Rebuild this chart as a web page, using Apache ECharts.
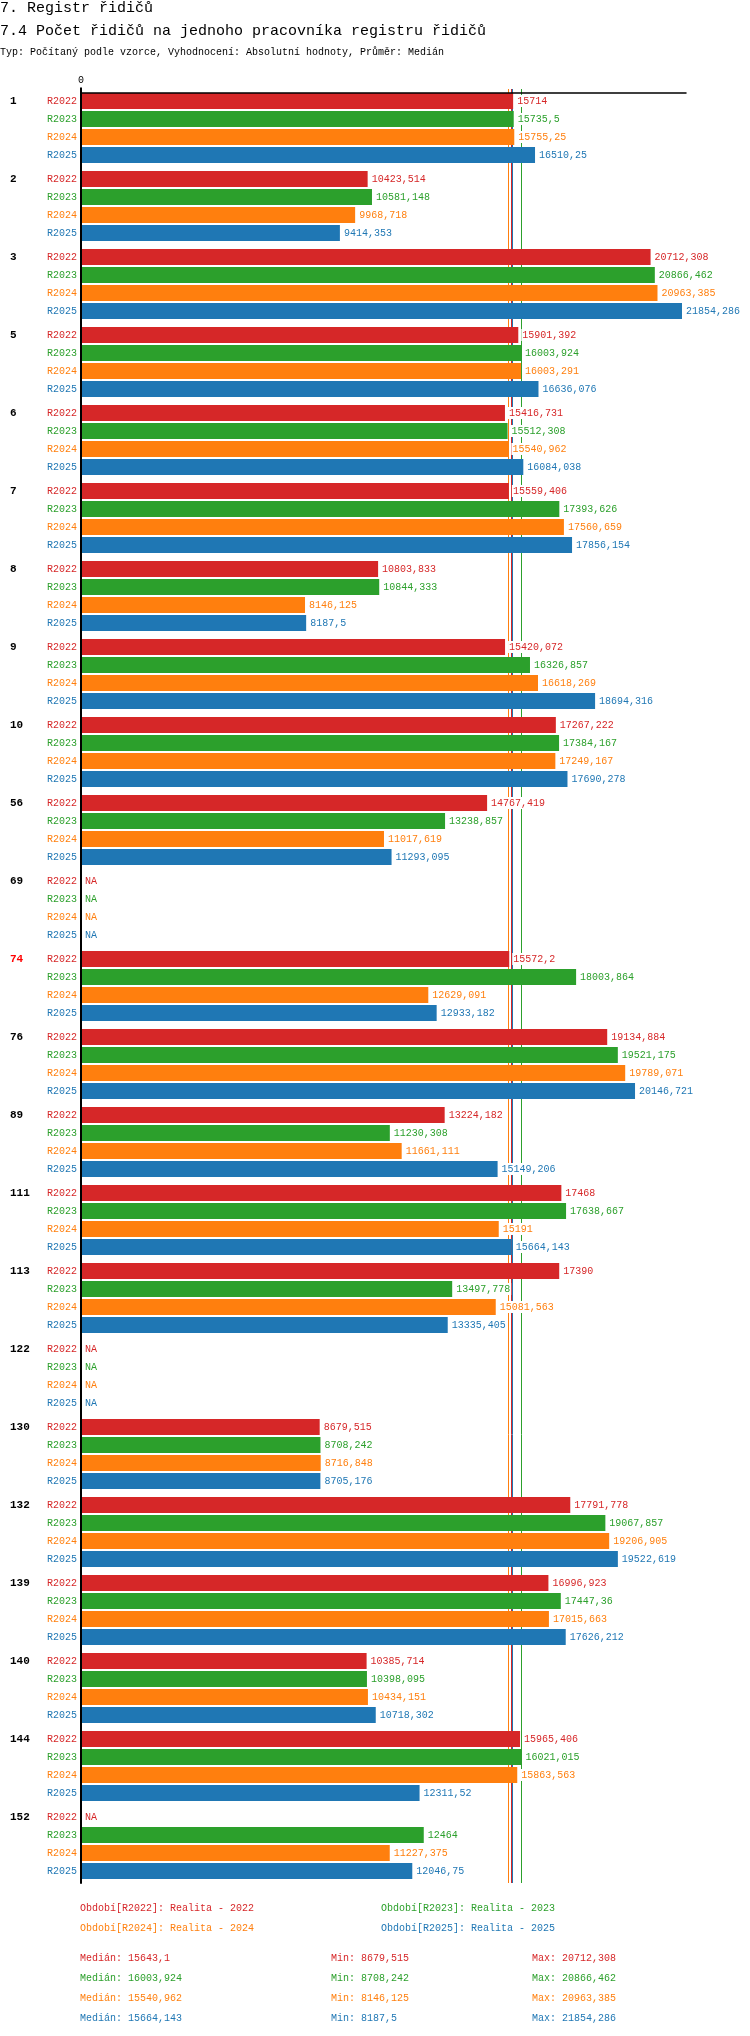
<!DOCTYPE html>
<html><head><meta charset="utf-8">
<script src="https://cdn.jsdelivr.net/npm/echarts@6/dist/echarts.min.js"></script>
<style>html,body{margin:0;padding:0;background:#fff}#c{width:750px;height:2036px}</style>
</head><body><div id="c"></div>
<script>
const groups = ['1','2','3','5','6','7','8','9','10','56','69','74','76','89','111','113','122','130','132','139','140','144','152'];
const periods = ['R2022','R2023','R2024','R2025'];
const legendYears = ['2022','2023','2024','2025'];
const r2022 = [15714,10423.514,20712.308,15901.392,15416.731,15559.406,10803.833,15420.072,17267.222,14767.419,null,15572.2,19134.884,13224.182,17468,17390,null,8679.515,17791.778,16996.923,10385.714,15965.406,null];
const r2023 = [15735.5,10581.148,20866.462,16003.924,15512.308,17393.626,10844.333,16326.857,17384.167,13238.857,null,18003.864,19521.175,11230.308,17638.667,13497.778,null,8708.242,19067.857,17447.36,10398.095,16021.015,12464];
const r2024 = [15755.25,9968.718,20963.385,16003.291,15540.962,17560.659,8146.125,16618.269,17249.167,11017.619,null,12629.091,19789.071,11661.111,15191,15081.563,null,8716.848,19206.905,17015.663,10434.151,15863.563,11227.375];
const r2025 = [16510.25,9414.353,21854.286,16636.076,16084.038,17856.154,8187.5,18694.316,17690.278,11293.095,null,12933.182,20146.721,15149.206,15664.143,13335.405,null,8705.176,19522.619,17626.212,10718.302,12311.52,12046.75];
const medians = [15643.1,16003.924,15540.962,15664.143];
const mins = [8679.515,8708.242,8146.125,8187.5];
const maxs = [20712.308,20866.462,20963.385,21854.286];
const highlightGroup = '74';

const vals = [r2022,r2023,r2024,r2025];
const colors = ['#d62728','#2ca02c','#ff7f0e','#1f77b4'];
const FONT = 'Liberation Mono';
const fmt = v => String(v).replace('.', ',');

const series = [];
series.push({
  type:'line', data:[], zlevel:0, z:1, silent:true,
  markLine:{symbol:'none', silent:true, animation:false, label:{show:false},
    data: medians.map((m,i)=>({xAxis:m, lineStyle:{color:colors[i], width:1, type:'solid'}}))}
});
for (let i=0;i<4;i++){
  series.push({
    type:'bar', name:periods[i]+'_lbl', stack:'s'+i, barWidth:16, barGap:'12.5%', silent:true, zlevel:1,
    data: groups.map(()=>0), itemStyle:{color:colors[i]},
    label:{show:true, position:'left', distance:4, formatter:periods[i], color:colors[i], fontFamily:FONT, fontSize:10}
  });
  series.push({
    type:'bar', name:periods[i], stack:'s'+i, barWidth:16, barGap:'12.5%', zlevel:1,
    data: vals[i].map(v => v==null ? {value:0, na:true} : v), itemStyle:{color:colors[i]},
    label:{show:true, position:'right', distance:3,
      formatter: p => (p.data && p.data.na) ? 'NA' : fmt(p.value),
      color:colors[i], fontFamily:FONT, fontSize:10, backgroundColor:'#fff', padding:[1,1]}
  });
}

const tf = (size) => size + 'px "Liberation Mono"';
const graphic = [
  {type:'text', x:0, y:8, style:{text:'7. Registr řidičů', font:tf(15), fill:'#000', verticalAlign:'middle'}},
  {type:'text', x:0, y:31, style:{text:'7.4 Počet řidičů na jednoho pracovníka registru řidičů', font:tf(15), fill:'#000', verticalAlign:'middle'}},
  {type:'text', x:0, y:52, style:{text:'Typ: Počítaný podle vzorce, Vyhodnocení: Absolutní hodnoty, Průměr: Medián', font:tf(10), fill:'#000', verticalAlign:'middle'}}
];
const legX = [80,381,80,381], legY = [1908,1908,1928,1928];
for (let i=0;i<4;i++){
  graphic.push({type:'text', x:legX[i], y:legY[i], style:{text:'Období['+periods[i]+']: Realita - '+legendYears[i], font:tf(10), fill:colors[i], verticalAlign:'middle'}});
  const y = 1958 + i*20;
  graphic.push({type:'text', x:80, y:y, style:{text:'Medián: '+fmt(medians[i]), font:tf(10), fill:colors[i], verticalAlign:'middle'}});
  graphic.push({type:'text', x:331, y:y, style:{text:'Min: '+fmt(mins[i]), font:tf(10), fill:colors[i], verticalAlign:'middle'}});
  graphic.push({type:'text', x:532, y:y, style:{text:'Max: '+fmt(maxs[i]), font:tf(10), fill:colors[i], verticalAlign:'middle'}});
}

const chart = echarts.init(document.getElementById('c'));
const labelBase = {align:'left', fontFamily:FONT, fontSize:11, fontWeight:'bold', verticalAlign:'bottom', lineHeight:54};
chart.setOption({
  animation:false,
  backgroundColor:'#fff',
  grid:{left:81, top:89, width:605, height:1794, containLabel:false},
  xAxis:{type:'value', position:'top', min:0, max:22000, offset:-3.5, zlevel:2,
    axisLine:{show:true, onZero:false, lineStyle:{color:'#000', width:1.5}},
    splitLine:{show:false},
    axisTick:{show:true, length:5, customValues:[0], lineStyle:{color:'#000', width:2}},
    axisLabel:{show:true, customValues:[0], margin:7, color:'#000', fontFamily:FONT, fontSize:10}},
  yAxis:{type:'category', inverse:true, zlevel:2,
    data: groups.map(g => g===highlightGroup ? {value:g, textStyle:Object.assign({}, labelBase, {color:'#ff0000'})} : g),
    axisLine:{show:true, onZero:false, lineStyle:{color:'#000', width:2}},
    axisTick:{show:false}, splitLine:{show:false},
    axisLabel:Object.assign({margin:71, color:'#000'}, labelBase)},
  graphic: graphic,
  series: series
});
</script></body></html>
